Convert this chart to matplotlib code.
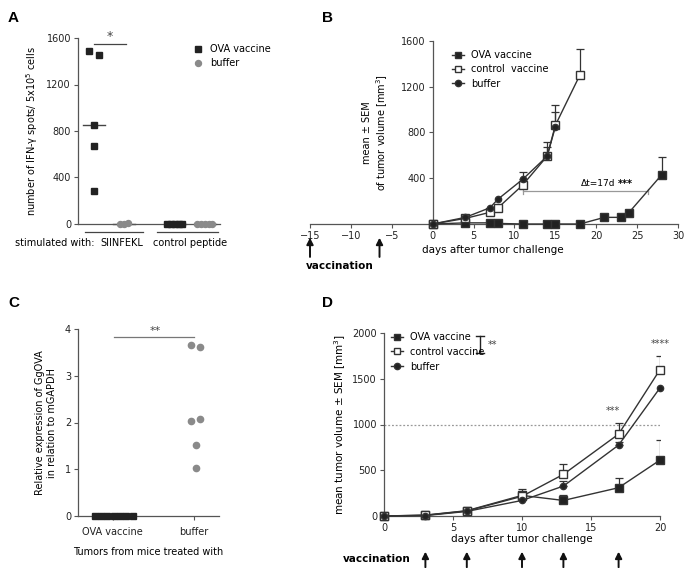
import numpy as np
import matplotlib
matplotlib.use("Agg")
import matplotlib.pyplot as plt
from matplotlib.lines import Line2D
import matplotlib.transforms as mtrans

plt.rcParams['font.family'] = ['DejaVu Sans']
plt.rcParams['font.size'] = 7

# ---------------- data ----------------
# Panel A
A_groups = ['SIINFEKL', 'control peptide']
A_ova_siinfekl = [1490, 1450, 850, 670, 280]
A_buf_siinfekl = [0, 0, 10]
A_ova_control = [0, 0, 0, 0, 0]
A_buf_control = [0, 0, 0, 0, 0]
A_yticks = [0, 400, 800, 1200, 1600]

# Panel B
B_days_ova = [0, 4, 7, 8, 11, 14, 15, 18, 21, 23, 24, 28]
B_ova = [0, 10, 10, 5, 0, 0, 0, 0, 58, 58, 100, 430]
B_ova_err = [0, 0, 0, 0, 0, 0, 0, 0, 0, 0, 0, 160]
B_days_ctrl = [0, 4, 7, 8, 11, 14, 15, 18]
B_ctrl = [0, 49, 102, 142, 340, 593, 863, 1302]
B_ctrl_err = [0, 0, 0, 0, 30, 125, 180, 230]
B_days_buf = [0, 4, 7, 8, 11, 14, 15]
B_buf = [0, 58, 142, 218, 390, 593, 849]
B_buf_err = [0, 0, 0, 0, 66, 80, 130]
B_vacc_days = [-15, -6.5]
B_delta = (11, 26.3)

# Panel C
C_groups = ['OVA vaccine', 'buffer']
C_ova = [0, 0, 0, 0, 0, 0, 0]
C_buf = [3.65, 3.62, 2.04, 2.07, 1.51, 1.03]

# Panel D
D_days = [0, 3, 6, 10, 13, 17, 20]
D_ova = [0, 10, 58, 225, 170, 309, 611]
D_ova_err = [0, 0, 0, 65, 60, 110, 220]
D_ctrl = [0, 8, 55, 215, 455, 895, 1600]
D_ctrl_err = [0, 0, 0, 50, 112, 123, 150]
D_buf = [0, 5, 50, 170, 327, 775, 1400]
D_buf_err = [0, 0, 0, 40, 60, 30, 0]
D_vacc_days = [3, 6, 10, 13, 17]

# ---------------- style ----------------
W, H = 685, 568
fig = plt.figure(figsize=(W / 100, H / 100), dpi=100)
DARK = '#222222'
LINE = '#333333'
GRAY = '#8a8a8a'
AX = '#555555'
ARROW = dict(arrowstyle='-|>,head_length=0.55,head_width=0.28',
             color='#111111', lw=1.4, shrinkA=0, shrinkB=0)


def px_axes(l, t, r, b):
    return fig.add_axes([l / W, 1 - b / H, (r - l) / W, (b - t) / H])


def style(ax):
    for s in ['top', 'right']:
        ax.spines[s].set_visible(False)
    for s in ['left', 'bottom']:
        ax.spines[s].set_color(AX)
        ax.spines[s].set_linewidth(0.9)
    ax.tick_params(direction='out', length=3, width=0.8, color=AX,
                   labelsize=7, labelcolor='#222222', pad=2)


# ---------------- Panel A ----------------
axA = px_axes(78, 38, 220, 224)
style(axA)
axA.set_xlim(-0.53, 4.2)
axA.set_ylim(0, 1600)
axA.set_yticks(A_yticks)
axA.set_xticks([])
posA = [0, 1, 2.7, 3.7]
offs_ova_s = [-0.17, 0.17, 0, 0, 0]
offs_buf_s = [-0.13, 0, 0.13]
offs5 = [-0.25, -0.12, 0, 0.12, 0.25]
sets = [(A_ova_siinfekl, offs_ova_s, 's', DARK),
        (A_buf_siinfekl, offs_buf_s, 'o', GRAY),
        (A_ova_control, offs5, 's', DARK),
        (A_buf_control, offs5, 'o', GRAY)]
for p, (vals, offs, mk, col) in zip(posA, sets):
    xs = [p + o for o in offs]
    med = np.median(vals)
    axA.plot([p - 0.37, p + 0.37], [med, med], color='#444444', lw=1.0, zorder=2,
             clip_on=False)
    axA.plot(xs, vals, ls='none', marker=mk, ms=4.6 if mk == 's' else 4.3,
             color=col, mec=col, zorder=3, clip_on=False)
axA.plot([0, 1.07], [1550, 1550], color='#444444', lw=0.9)
axA.text(0.53, 1555, '*', ha='center', va='bottom', fontsize=9, color='#444444')
axA.set_ylabel('number of IFN-γ spots/ 5x10$^5$ cells', fontsize=7)
axA.yaxis.set_label_coords(-0.27, 0.5)
trA = mtrans.blended_transform_factory(axA.transData, axA.transAxes)
for (lo, hi), lab, cx in zip([(-0.3, 1.63), (2.1, 4.13)], A_groups, [0.93, 3.2]):
    axA.plot([lo, hi], [-0.043, -0.043], color='#444444', lw=0.9,
             transform=trA, clip_on=False)
    axA.text(cx, -0.1, lab, ha='center', va='center', fontsize=7, transform=trA)
axA.text(-1.3, -0.1, 'stimulated with:', ha='center', va='center', fontsize=7,
         transform=trA)
hA = [Line2D([], [], ls='none', marker='s', ms=4.6, color=DARK),
      Line2D([], [], ls='none', marker='o', ms=4.3, color=GRAY)]
fig.legend(hA, ['OVA vaccine', 'buffer'], loc='upper left',
           bbox_to_anchor=(193 / W, 1 - 44 / H), frameon=False, fontsize=7,
           handlelength=1.0, handletextpad=0.8, labelspacing=0.45, borderpad=0,
           borderaxespad=0)

# ---------------- Panel B ----------------
axB = px_axes(310, 41, 678, 224)
style(axB)
axB.spines['left'].set_position(('data', 0))
axB.set_xlim(-15, 30)
axB.set_ylim(0, 1600)
axB.set_xticks(range(-15, 31, 5))
axB.set_yticks([0, 400, 800, 1200, 1600])
axB.set_yticklabels(['', '400', '800', '1200', '1600'])
mk_kw = dict(clip_on=False, zorder=4)


def series(ax, x, y, err, mk, ms, fc):
    e = np.array(err, float)
    mask = e > 0
    if mask.any():
        ax.errorbar(np.array(x)[mask], np.array(y)[mask],
                    yerr=[np.zeros(mask.sum()), e[mask]], fmt='none',
                    ecolor=LINE, elinewidth=0.9, capsize=3, capthick=0.9, zorder=2)
    ax.plot(x, y, color=LINE, lw=1.0, marker=mk, ms=ms, mfc=fc, mec=LINE,
            mew=1.0, **mk_kw)


series(axB, B_days_ova, B_ova, B_ova_err, 's', 5.5, DARK)
series(axB, B_days_ctrl, B_ctrl, B_ctrl_err, 's', 5.5, 'white')
series(axB, B_days_buf, B_buf, B_buf_err, 'o', 4.5, DARK)
axB.plot(list(B_delta), [290, 290], color='#999999', lw=0.9)
for xx in B_delta:
    axB.plot([xx, xx], [262, 305], color='#999999', lw=0.9)
axB.text(22.3, 350, 'Δt=17d', ha='right', va='center', fontsize=6.5)
axB.text(22.7, 352, '***', ha='left', va='center', fontsize=7, fontweight='bold')
axB.set_ylabel('mean ± SEM\nof tumor volume [mm$^3$]', fontsize=7)
axB.yaxis.set_label_coords(0.217, 0.5)
axB.set_xlabel('days after tumor challenge', fontsize=7.5)
axB.xaxis.set_label_coords(0.497, -0.115)
trB = mtrans.blended_transform_factory(axB.transData, axB.transAxes)
for d in B_vacc_days:
    axB.annotate('', xy=(d, -0.075), xytext=(d, -0.18), xycoords=trB,
                 textcoords=trB, arrowprops=ARROW)
axB.text(-15.5, -0.23, 'vaccination', ha='left', va='center', fontsize=7.5,
         fontweight='bold', transform=trB)
hB = [Line2D([], [], color=LINE, lw=1.0, marker='s', ms=5, mfc=DARK, mec=LINE),
      Line2D([], [], color=LINE, lw=1.0, marker='s', ms=5, mfc='white', mec=LINE),
      Line2D([], [], color=LINE, lw=1.0, marker='o', ms=4.5, mfc=DARK, mec=LINE)]
fig.legend(hB, ['OVA vaccine', 'control  vaccine', 'buffer'], loc='upper left',
           bbox_to_anchor=(452 / W, 1 - 50 / H), frameon=False, fontsize=7,
           handlelength=1.25, handletextpad=0.7, labelspacing=0.45, borderpad=0,
           borderaxespad=0)

# ---------------- Panel C ----------------
axC = px_axes(78, 329, 219, 516)
style(axC)
axC.set_xlim(-0.43, 1.31)
axC.set_ylim(0, 4)
axC.set_yticks([0, 1, 2, 3, 4])
axC.set_xticks([0, 1])
axC.set_xticklabels(C_groups)
axC.tick_params(axis='x', pad=5)
offs7 = [-0.235, -0.157, -0.078, 0, 0.078, 0.157, 0.235]
axC.plot([0.01 + o for o in offs7], C_ova, ls='none', marker='s', ms=4.6,
         color=DARK, clip_on=False, zorder=3)
offsC = [-0.037, 0.074, -0.037, 0.074, 0.025, 0.025]
axC.plot([1 + o for o in offsC], C_buf, ls='none', marker='o', ms=4.5,
         color=GRAY, clip_on=False, zorder=3)
axC.plot([0.02, 1.0], [3.83, 3.83], color='#777777', lw=0.9)
axC.text(0.52, 3.86, '**', ha='center', va='bottom', fontsize=8, color='#444444')
axC.set_ylabel('Relative expression of GgOVA\nin relation to mGAPDH', fontsize=7)
axC.yaxis.set_label_coords(-0.15, 0.5)
axC.set_xlabel('Tumors from mice treated with', fontsize=7)
axC.xaxis.set_label_coords(0.5, -0.165)

# ---------------- Panel D ----------------
axD = px_axes(384, 333, 660, 516)
style(axD)
axD.set_xlim(0, 20)
axD.set_ylim(0, 2000)
axD.set_xticks([0, 5, 10, 15, 20])
axD.set_yticks([0, 500, 1000, 1500, 2000])
axD.axhline(1000, color='#999999', lw=0.9, ls=(0, (1.5, 1.5)), zorder=1)
series(axD, D_days, D_ova, D_ova_err, 's', 5.5, DARK)
series(axD, D_days, D_ctrl, D_ctrl_err, 's', 5.5, 'white')
series(axD, D_days, D_buf, D_buf_err, 'o', 4.5, DARK)
axD.text(16.6, 1090, '***', ha='center', va='bottom', fontsize=7, color='#444444')
axD.text(20.0, 1830, '****', ha='center', va='bottom', fontsize=7, color='#444444')
axD.plot([6.96, 6.96], [1781, 1967], color='#222222', lw=1.0)
for yy in [1781, 1967]:
    axD.plot([6.7, 7.22], [yy, yy], color='#222222', lw=1.0)
axD.text(7.5, 1870, '**', ha='left', va='center', fontsize=7, color='#444444')
axD.set_ylabel('mean tumor volume ± SEM [mm$^3$]', fontsize=7.5)
axD.yaxis.set_label_coords(-0.13, 0.5)
axD.set_xlabel('days after tumor challenge', fontsize=7.5)
axD.xaxis.set_label_coords(0.5, -0.1)
trD = mtrans.blended_transform_factory(axD.transData, axD.transAxes)
for d in D_vacc_days:
    axD.annotate('', xy=(d, -0.195), xytext=(d, -0.28), xycoords=trD,
                 textcoords=trD, arrowprops=ARROW)
axD.text(-2.98, -0.235, 'vaccination', ha='left', va='center', fontsize=7.5,
         fontweight='bold', transform=trD)
fig.legend(hB, ['OVA vaccine', 'control vaccine', 'buffer'], loc='upper left',
           bbox_to_anchor=(391 / W, 1 - 332 / H), frameon=False, fontsize=7,
           handlelength=1.25, handletextpad=0.7, labelspacing=0.5, borderpad=0,
           borderaxespad=0)

# ---------------- panel letters ----------------
for lab, x, y in [('A', 8, 18), ('B', 322, 18), ('C', 8, 303), ('D', 322, 303)]:
    fig.text(x / W, 1 - y / H, lab, fontsize=11, fontweight='bold',
             family='Liberation Sans', ha='left', va='center')

fig.savefig('out.png', dpi=100)
